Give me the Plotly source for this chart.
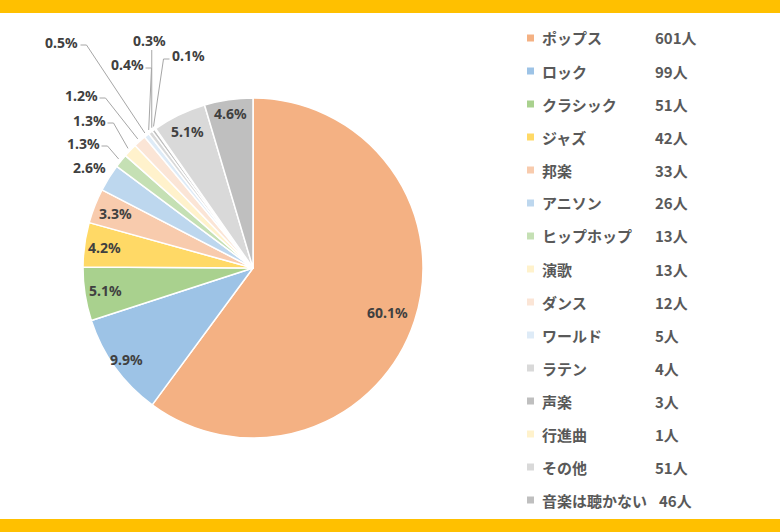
import numpy as np
import plotly.graph_objects as go

# survey results (people, total 1000)
genres = ["ポップス", "ロック", "クラシック", "ジャズ", "邦楽", "アニソン", "ヒップホップ",
          "演歌", "ダンス", "ワールド", "ラテン", "声楽", "行進曲", "その他", "音楽は聴かない"]
people = [601, 99, 51, 42, 33, 26, 13, 13, 12, 5, 4, 3, 1, 51, 46]

colors = ["#F4B183", "#9DC3E6", "#A9D18E", "#FFD966", "#F8CBAD", "#BDD7EE", "#C5E0B4",
          "#FFF2CC", "#FBE5D6", "#DEEBF7", "#D9D9D9", "#BFBFBF", "#FFF2CC", "#D9D9D9", "#BFBFBF"]

W, H = 780, 532
cx, cy, R = 253, 268, 170

# label placement (style): inside labels by radius fraction, outside ones by pixel spot
inside_r = {0: 0.83, 1: 0.92, 2: 0.88, 3: 0.88, 4: 0.87, 13: 0.89, 14: 0.92}
outside_pos = {5: (89, 167, None), 6: (83, 143, "right"), 7: (89, 120, "right"),
               8: (81, 95, "right"), 9: (62, 42, "right"), 10: (127, 65, "right"),
               11: (149, 40, "below"), 12: (188, 55, "left")}

vals = np.array(people, dtype=float)
share = vals / vals.sum()
edges = np.concatenate([[0.], np.cumsum(share)])
mid = (edges[:-1] + edges[1:]) / 2 * 2 * np.pi


def polar(r, a):
    return cx + r * np.sin(a), cy - r * np.cos(a)


def px(x):
    return x / W


def py(y):
    return 1 - y / H


fig = go.Figure()
fig.add_trace(go.Pie(
    labels=genres, values=people, sort=False, direction="clockwise", rotation=0,
    marker=dict(colors=colors, line=dict(color="white", width=1.5)),
    textinfo="none", hoverinfo="label+value+percent", showlegend=False,
    domain=dict(x=[px(cx - R), px(cx + R)], y=[py(cy + R), py(cy - R)]),
))

label_font = dict(family="Noto Sans", size=14, color="#404040", weight="bold")
annotations = []
shapes = []
hw = 16.5
for i, s in enumerate(share):
    txt = f"{s * 100:.1f}%"
    if i in inside_r:
        x, y = polar(inside_r[i] * R, mid[i])
    else:
        x, y, side = outside_pos[i]
        ex, ey = polar(R + 3, mid[i])
        path = None
        if side == "right":
            sx = x + hw + 2
            path = f"M{px(sx)},{py(y + 3)} L{px(sx + 6)},{py(y + 3)} L{px(ex)},{py(ey)}"
        elif side == "left":
            sx = x - hw - 2
            path = f"M{px(sx)},{py(y + 4)} L{px(sx - 6)},{py(y + 4)} L{px(ex)},{py(ey)}"
        elif side == "below":
            path = f"M{px(ex)},{py(y + 10)} L{px(ex)},{py(ey)}"
        if path:
            shapes.append(dict(type="path", xref="paper", yref="paper", path=path,
                               line=dict(color="#A6A6A6", width=1)))
    annotations.append(dict(x=px(x), y=py(y), xref="paper", yref="paper", text=txt,
                            showarrow=False, font=label_font,
                            xanchor="center", yanchor="middle"))

# legend drawn by hand: marker, name, count
leg_font = dict(family="Noto Sans CJK JP", size=15, color="#595959", weight="bold")
for i, (g, n) in enumerate(zip(genres, people)):
    y = 38 + 33 * i
    shapes.append(dict(type="rect", xref="paper", yref="paper",
                       x0=px(527), x1=px(534), y0=py(y + 3.5), y1=py(y - 3.5),
                       fillcolor=colors[i], line=dict(width=0)))
    count_x = max(653, 540 + len(g) * 15.3 + 10)
    annotations.append(dict(x=px(540), y=py(y), xref="paper", yref="paper",
                            text=g, showarrow=False, font=leg_font,
                            xanchor="left", yanchor="middle"))
    annotations.append(dict(x=px(count_x), y=py(y), xref="paper", yref="paper",
                            text=f"{n}人", showarrow=False, font=leg_font,
                            xanchor="left", yanchor="middle"))

# yellow bands top and bottom
shapes.append(dict(type="rect", xref="paper", yref="paper", x0=0, x1=1, y0=py(13), y1=1,
                   fillcolor="#FFC000", line=dict(width=0), layer="below"))
shapes.append(dict(type="rect", xref="paper", yref="paper", x0=0, x1=1, y0=0, y1=py(519),
                   fillcolor="#FFC000", line=dict(width=0), layer="below"))

fig.update_layout(width=W, height=H, margin=dict(l=0, r=0, t=0, b=0),
                  paper_bgcolor="white", plot_bgcolor="white",
                  annotations=annotations, shapes=shapes)
fig.write_html("out.html", config=dict(displayModeBar=False),
               post_script="document.body.style.margin='0px';")
